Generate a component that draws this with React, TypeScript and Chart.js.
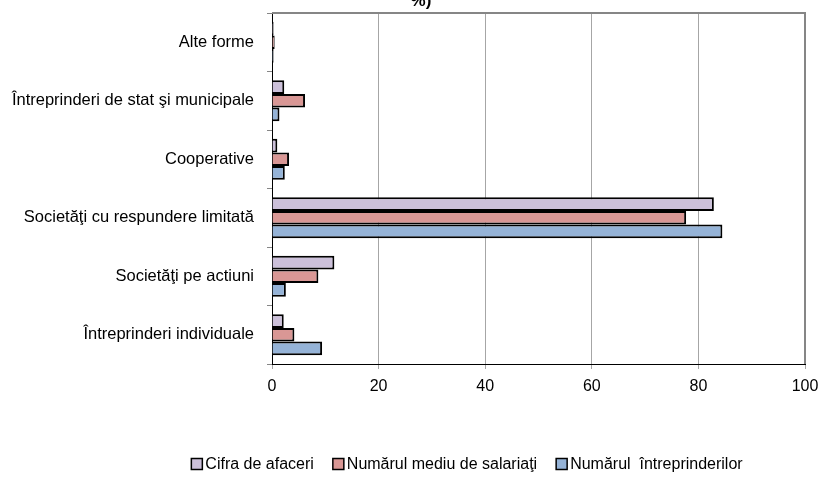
import React, { useEffect, useRef } from "react";
import { Chart, registerables } from "chart.js";

Chart.register(...registerables);

const categories = [
  "Alte forme",
  "Întreprinderi de stat şi municipale",
  "Cooperative",
  "Societăţi cu respundere limitată",
  "Societăţi pe actiuni",
  "Întreprinderi individuale",
];
const seriesNames = ["Cifra de afaceri", "Numărul mediu de salariaţi", "Numărul  întreprinderilor"];
const cifraAfaceri = [0.3, 2.3, 1.0, 82.9, 11.7, 2.2];
const salariati = [0.5, 6.2, 3.2, 77.7, 8.7, 4.2];
const intreprinderi = [0.3, 1.4, 2.4, 84.5, 2.6, 9.4];
const xMin = 0;
const xMax = 100;
const xStep = 20;
const titleText = "%)";

const seriesColors = ["#CCC0DA", "#D99795", "#95B3D7"];
const FONT = "'Liberation Sans', Arial, sans-serif";

const decorPlugin = {
  id: "decor",
  afterDraw(chart: any) {
    const { ctx, chartArea } = chart;
    ctx.save();
    // plot area border (top & right)
    ctx.strokeStyle = "#868686";
    ctx.lineWidth = 2;
    ctx.beginPath();
    ctx.moveTo(chartArea.left, chartArea.top);
    ctx.lineTo(chartArea.right, chartArea.top);
    ctx.lineTo(chartArea.right, chartArea.bottom);
    ctx.stroke();

    // title (cut at the top)
    ctx.fillStyle = "#000";
    ctx.font = `bold 17px ${FONT}`;
    ctx.textAlign = "center";
    ctx.textBaseline = "alphabetic";
    ctx.fillText(titleText, 421, 6);

    // legend
    ctx.font = `16px ${FONT}`;
    ctx.textBaseline = "middle";
    ctx.textAlign = "left";
    const box = 11;
    const gapText = 3;
    const gapItem = 19;
    const widths = chart.data.datasets.map(
      (d: any) => box + gapText + ctx.measureText(d.label).width
    );
    const total = widths.reduce((a: number, b: number) => a + b, 0) + gapItem * (widths.length - 1);
    let x = 467 - total / 2;
    const y = 464;
    chart.data.datasets.forEach((d: any, i: number) => {
      ctx.fillStyle = d.backgroundColor;
      ctx.fillRect(x, y - box / 2, box, box);
      ctx.strokeStyle = "#000";
      ctx.lineWidth = 1.5;
      ctx.strokeRect(x, y - box / 2, box, box);
      ctx.fillStyle = "#000";
      ctx.fillText(d.label, x + box + gapText, y + 1);
      x += widths[i] + gapItem;
    });
    ctx.restore();
  },
};

export default function App() {
  const ref = useRef<HTMLCanvasElement | null>(null);
  useEffect(() => {
    if (!ref.current) return;
    Chart.defaults.font.family = FONT;
    const values = [cifraAfaceri, salariati, intreprinderi];
    const chart = new Chart(ref.current, {
      type: "bar",
      data: {
        labels: categories,
        datasets: seriesNames.map((name, i) => ({
          label: name,
          data: values[i],
          backgroundColor: seriesColors[i],
          borderColor: "#000",
          borderWidth: 2,
          categoryPercentage: 0.7,
          barPercentage: 1.0,
        })),
      },
      options: {
        indexAxis: "y",
        responsive: false,
        animation: false,
        devicePixelRatio: 1,
        layout: { padding: { top: 13, left: 0, right: 16, bottom: 0 } },
        plugins: {
          legend: { display: false },
          title: { display: false },
          tooltip: { enabled: false },
        },
        scales: {
          x: {
            type: "linear",
            position: "bottom",
            min: xMin,
            max: xMax,
            ticks: {
              stepSize: xStep,
              color: "#000",
              font: { size: 16 },
              padding: 8,
            },
            grid: {
              color: "#A6A6A6",
              lineWidth: 1,
              drawTicks: true,
              tickLength: 5,
            },
            border: { display: true, color: "#000", width: 1 },
            afterFit: (scale: any) => {
              scale.height = 124;
              scale.paddingLeft = 0;
              scale.paddingRight = 0;
            },
          },
          y: {
            type: "category",
            position: "left",
            ticks: {
              color: "#000",
              font: { size: 16.5 },
              padding: 13,
            },
            grid: {
              offset: true,
              drawOnChartArea: false,
              drawTicks: true,
              tickLength: 5,
              color: "#868686",
            },
            border: { display: true, color: "#000", width: 1 },
            afterFit: (scale: any) => {
              scale.width = 272;
              scale.paddingTop = 0;
              scale.paddingBottom = 0;
            },
          },
        },
      },
      plugins: [decorPlugin],
    });
    return () => chart.destroy();
  }, []);
  return (
    <div style={{ position: "fixed", left: 0, top: 0, width: 821, height: 488, background: "#fff" }}>
      <canvas ref={ref} width={821} height={488} />
    </div>
  );
}
